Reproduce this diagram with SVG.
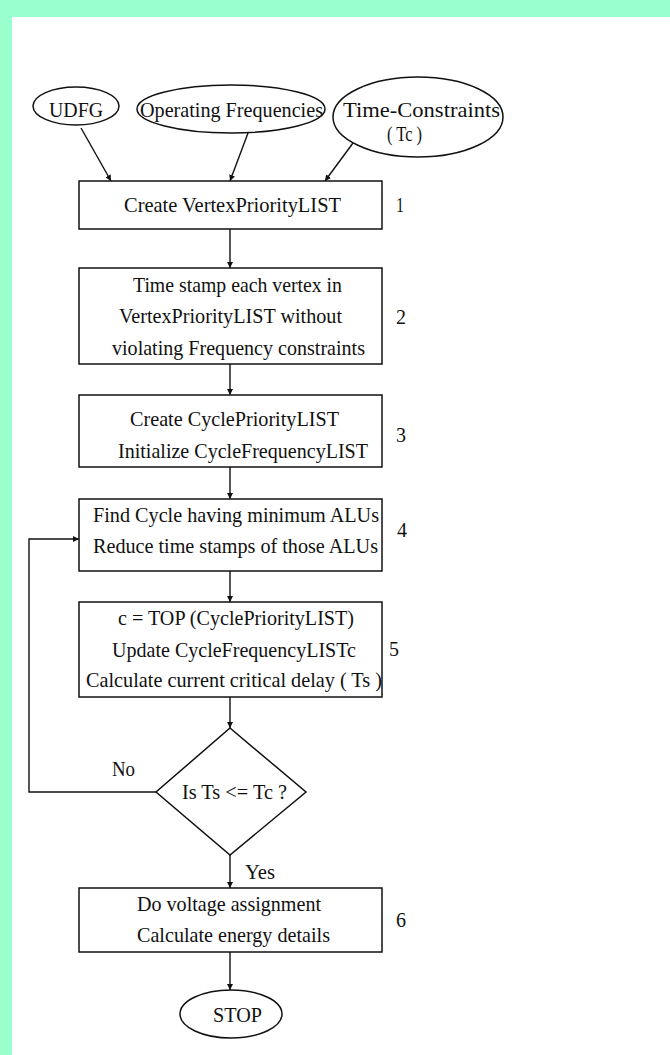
<svg xmlns="http://www.w3.org/2000/svg" width="670" height="1055" viewBox="0 0 670 1055">
  <style>
    .shape { fill: #ffffff; stroke: #111111; stroke-width: 1.5; }
    .edge { fill: none; stroke: #111111; stroke-width: 1.4; }
    .t { font-family: "Liberation Serif", "Times New Roman", serif; font-size: 21px; fill: #111111; }
  </style>
  <defs>
    <marker id="arrow" viewBox="0 0 10 10" refX="10" refY="5" markerWidth="6" markerHeight="6" markerUnits="userSpaceOnUse" orient="auto">
      <path d="M0,0 L10,5 L0,10 z" fill="#111111"/>
    </marker>
  </defs>

  <!-- page background with mint frame -->
  <rect x="0" y="0" width="670" height="1055" fill="#ffffff"/>
  <rect x="0" y="0" width="670" height="17" fill="#99ffcc"/>
  <rect x="0" y="0" width="12" height="1055" fill="#99ffcc"/>

  <!-- connectors -->
  <g id="connectors">
    <line class="edge" x1="81" y1="128" x2="111" y2="181" marker-end="url(#arrow)"/>
    <line class="edge" x1="248" y1="133" x2="230" y2="181" marker-end="url(#arrow)"/>
    <line class="edge" x1="353" y1="143" x2="325" y2="181" marker-end="url(#arrow)"/>
    <line class="edge" x1="230" y1="229" x2="230" y2="268" marker-end="url(#arrow)"/>
    <line class="edge" x1="230" y1="364" x2="230" y2="395" marker-end="url(#arrow)"/>
    <line class="edge" x1="230" y1="467" x2="230" y2="499" marker-end="url(#arrow)"/>
    <line class="edge" x1="230" y1="571" x2="230" y2="602" marker-end="url(#arrow)"/>
    <line class="edge" x1="230" y1="697" x2="230" y2="728" marker-end="url(#arrow)"/>
    <line class="edge" x1="230" y1="855" x2="230" y2="888" marker-end="url(#arrow)"/>
    <line class="edge" x1="230" y1="952" x2="230" y2="990" marker-end="url(#arrow)"/>
    <polyline class="edge" points="156,792 29,792 29,539 79,539" marker-end="url(#arrow)"/>
    <text class="t" x="112" y="776" textLength="23" lengthAdjust="spacingAndGlyphs">No</text>
    <text class="t" x="245" y="879" textLength="30" lengthAdjust="spacingAndGlyphs">Yes</text>
  </g>

  <!-- inputs -->
  <g id="udfg">
    <ellipse class="shape" cx="76" cy="106" rx="43" ry="19"/>
    <text class="t" x="49" y="117" textLength="54" lengthAdjust="spacingAndGlyphs">UDFG</text>
  </g>
  <g id="operating-frequencies">
    <ellipse class="shape" cx="231" cy="109" rx="94" ry="24"/>
    <text class="t" x="140" y="117" textLength="183" lengthAdjust="spacingAndGlyphs">Operating Frequencies</text>
  </g>
  <g id="time-constraints">
    <ellipse class="shape" cx="418" cy="117" rx="85" ry="40"/>
    <text class="t" x="343" y="117" textLength="157" lengthAdjust="spacingAndGlyphs">Time-Constraints</text>
    <text class="t" x="387" y="141" textLength="35" lengthAdjust="spacingAndGlyphs" xml:space="preserve">( Tc )</text>
  </g>

  <!-- step 1 -->
  <g id="step1">
    <rect class="shape" x="79" y="181" width="303" height="48"/>
    <text class="t" x="124" y="212" textLength="217" lengthAdjust="spacingAndGlyphs">Create VertexPriorityLIST</text>
    <text class="t" x="396" y="212" textLength="8" lengthAdjust="spacingAndGlyphs">1</text>
  </g>

  <!-- step 2 -->
  <g id="step2">
    <rect class="shape" x="79" y="268" width="303" height="96"/>
    <text class="t" x="133" y="292" textLength="209" lengthAdjust="spacingAndGlyphs">Time stamp each vertex in</text>
    <text class="t" x="119" y="323" textLength="223" lengthAdjust="spacingAndGlyphs">VertexPriorityLIST without</text>
    <text class="t" x="112" y="355" textLength="253" lengthAdjust="spacingAndGlyphs">violating Frequency constraints</text>
    <text class="t" x="396" y="324" textLength="10" lengthAdjust="spacingAndGlyphs">2</text>
  </g>

  <!-- step 3 -->
  <g id="step3">
    <rect class="shape" x="79" y="395" width="303" height="72"/>
    <text class="t" x="130" y="426" textLength="209" lengthAdjust="spacingAndGlyphs">Create CyclePriorityLIST</text>
    <text class="t" x="118" y="458" textLength="250" lengthAdjust="spacingAndGlyphs">Initialize CycleFrequencyLIST</text>
    <text class="t" x="396" y="442" textLength="10" lengthAdjust="spacingAndGlyphs">3</text>
  </g>

  <!-- step 4 -->
  <g id="step4">
    <rect class="shape" x="79" y="499" width="303" height="72"/>
    <text class="t" x="93" y="522" textLength="286" lengthAdjust="spacingAndGlyphs">Find Cycle having minimum ALUs</text>
    <text class="t" x="93" y="553" textLength="285" lengthAdjust="spacingAndGlyphs">Reduce time stamps of those ALUs</text>
    <text class="t" x="397" y="537" textLength="10" lengthAdjust="spacingAndGlyphs">4</text>
  </g>

  <!-- step 5 -->
  <g id="step5">
    <rect class="shape" x="79" y="602" width="303" height="95"/>
    <text class="t" x="118" y="625" textLength="236" lengthAdjust="spacingAndGlyphs">c = TOP (CyclePriorityLIST)</text>
    <text class="t" x="112" y="657" textLength="244" lengthAdjust="spacingAndGlyphs">Update CycleFrequencyLISTc</text>
    <text class="t" x="86" y="687" textLength="296" lengthAdjust="spacingAndGlyphs">Calculate current critical delay ( Ts )</text>
    <text class="t" x="389" y="656" textLength="10" lengthAdjust="spacingAndGlyphs">5</text>
  </g>

  <!-- decision -->
  <g id="decision">
    <polygon class="shape" points="230,728 306,792 230,855 156,792"/>
    <text class="t" x="182" y="799" textLength="105" lengthAdjust="spacingAndGlyphs">Is Ts &lt;= Tc ?</text>
  </g>

  <!-- step 6 -->
  <g id="step6">
    <rect class="shape" x="79" y="888" width="303" height="64"/>
    <text class="t" x="137" y="911" textLength="184" lengthAdjust="spacingAndGlyphs">Do voltage assignment</text>
    <text class="t" x="137" y="942" textLength="193" lengthAdjust="spacingAndGlyphs">Calculate energy details</text>
    <text class="t" x="396" y="927" textLength="10" lengthAdjust="spacingAndGlyphs">6</text>
  </g>

  <!-- end -->
  <g id="stop">
    <ellipse class="shape" cx="231" cy="1014" rx="51" ry="24"/>
    <text class="t" x="213" y="1022" textLength="49" lengthAdjust="spacingAndGlyphs">STOP</text>
  </g>
</svg>
